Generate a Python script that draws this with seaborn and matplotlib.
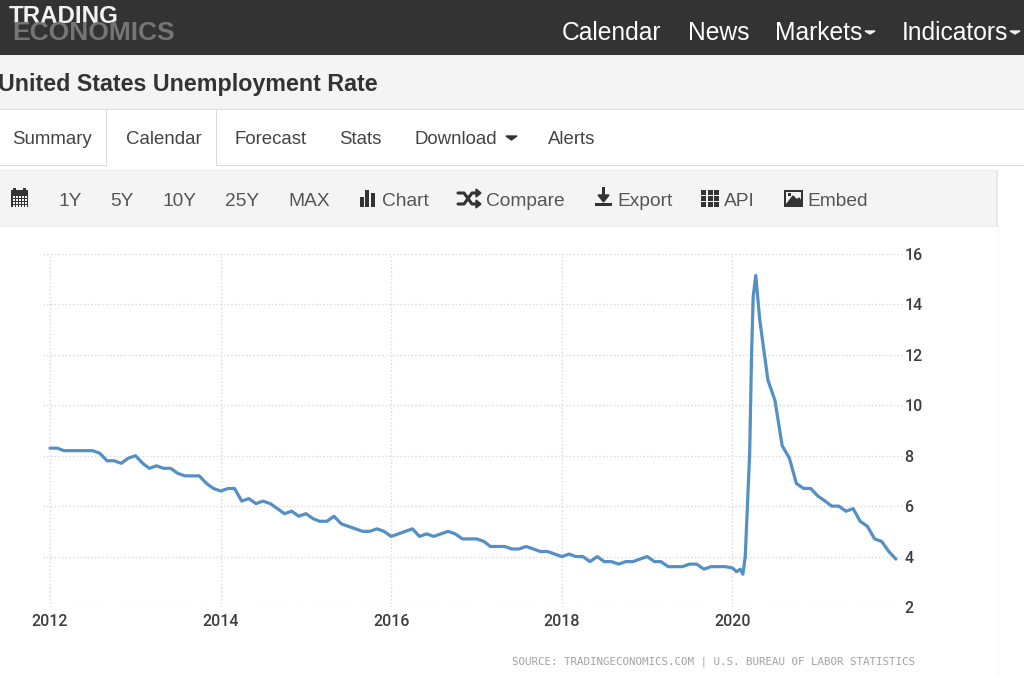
import pandas as pd
import seaborn as sns
import matplotlib.pyplot as plt
import matplotlib.dates as mdates
from matplotlib.patches import Rectangle, Polygon

# monthly values, Jan 2012 to Dec 2019
rate_2012 = [8.3, 8.3, 8.2, 8.2, 8.2, 8.2, 8.2, 8.1, 7.8, 7.8, 7.7, 7.9]
rate_2013 = [8.0, 7.7, 7.5, 7.6, 7.5, 7.5, 7.3, 7.2, 7.2, 7.2, 6.9, 6.7]
rate_2014 = [6.6, 6.7, 6.7, 6.2, 6.3, 6.1, 6.2, 6.1, 5.9, 5.7, 5.8, 5.6]
rate_2015 = [5.7, 5.5, 5.4, 5.4, 5.6, 5.3, 5.2, 5.1, 5.0, 5.0, 5.1, 5.0]
rate_2016 = [4.8, 4.9, 5.0, 5.1, 4.8, 4.9, 4.8, 4.9, 5.0, 4.9, 4.7, 4.7]
rate_2017 = [4.7, 4.6, 4.4, 4.4, 4.4, 4.3, 4.3, 4.4, 4.3, 4.2, 4.2, 4.1]
rate_2018 = [4.0, 4.1, 4.0, 4.0, 3.8, 4.0, 3.8, 3.8, 3.7, 3.8, 3.8, 3.9]
rate_2019 = [4.0, 3.8, 3.8, 3.6, 3.6, 3.6, 3.7, 3.7, 3.5, 3.6, 3.6, 3.6]

# the spike is drawn finer than monthly in the picture
spike_dates = ['2020-01-01', '2020-01-19', '2020-02-04', '2020-02-15', '2020-02-25', '2020-03-15',
               '2020-03-23', '2020-03-30', '2020-04-10', '2020-04-27', '2020-06-01', '2020-07-01',
               '2020-08-01', '2020-09-01', '2020-10-01', '2020-11-01', '2020-12-01']
spike_rate = [3.55, 3.4, 3.5, 3.3, 4.0, 8.1, 12.0, 14.3, 15.15, 13.4, 11.0, 10.2, 8.4, 7.9, 6.9, 6.7, 6.7]

dates_2021 = pd.date_range('2021-01-01', periods=12, freq='MS')
rate_2021 = [6.4, 6.2, 6.0, 6.0, 5.8, 5.9, 5.4, 5.2, 4.7, 4.6, 4.2, 3.9]

x_ticks = ['2012', '2014', '2016', '2018', '2020']
y_ticks = [2, 4, 6, 8, 10, 12, 14, 16]

nav_items = [('Calendar', 562), ('News', 688), ('Markets', 775), ('Indicators', 902)]
tab_items = [('Summary', 12), ('Calendar', 126), ('Forecast', 235), ('Stats', 339), ('Download', 415), ('Alerts', 548)]
tool_items = [('1Y', 58), ('5Y', 110), ('10Y', 163), ('25Y', 225), ('MAX', 288), ('Chart', 382),
              ('Compare', 486), ('Export', 617), ('API', 724), ('Embed', 807)]

monthly = rate_2012 + rate_2013 + rate_2014 + rate_2015 + rate_2016 + rate_2017 + rate_2018 + rate_2019
df = pd.DataFrame({
    'date': list(pd.date_range('2012-01-01', periods=len(monthly), freq='MS')) + list(pd.to_datetime(spike_dates)) + list(dates_2021),
    'rate': monthly + spike_rate + rate_2021,
})

sns.set_style('white')
plt.rcParams['font.family'] = ['Liberation Sans', 'DejaVu Sans']

W, H = 1024, 677
fig = plt.figure(figsize=(W / 100, H / 100), dpi=100)

# page chrome in pixel coordinates
page = fig.add_axes([0, 0, 1, 1])
page.set_xlim(0, W)
page.set_ylim(H, 0)
page.axis('off')


def box(x, y, w, h, color, **kw):
    page.add_patch(Rectangle((x, y), w, h, facecolor=color, edgecolor='none', **kw))


box(0, 0, W, 55, '#333333')
box(0, 55, W, 54, '#f4f4f4')
box(0, 109, W, 1, '#dddddd')
box(0, 165, W, 1, '#dddddd')
box(106, 110, 1, 56, '#dddddd')
box(216, 110, 1, 56, '#dddddd')
box(107, 165, 109, 1, 'white')
box(0, 170, 998, 57, '#e9e9e9')
box(0, 171, 996, 55, '#f4f4f4')
box(998, 227, 1, H - 227, '#f4f4f4')

page.text(9, 16.5, 'TRADING', color='#f2f2f2', fontsize=17.4, fontweight='bold', va='center')
page.text(12, 33.5, 'ECONOMICS', color='#757575', fontsize=19, fontweight='bold', va='center')
for label, x in nav_items:
    page.text(x, 33, label, color='white', fontsize=17.7, va='center')
for x in (865, 1010):
    page.add_patch(Polygon([(x, 31), (x + 10, 31), (x + 5, 34)], color='#eeeeee'))

page.text(-2, 84, 'United States Unemployment Rate', color='#333333', fontsize=16.75, fontweight='bold', va='center')
for label, x in tab_items:
    page.text(x, 140, label, color='#444444', fontsize=13.4, va='center')
page.add_patch(Polygon([(506, 136), (517, 136), (511.5, 140)], color='#333333'))
for label, x in tool_items:
    page.text(x, 201, label, color='#555555', fontsize=13.8, va='center')

# toolbar icons
box(11, 190, 17, 17, '#333333')
box(13, 188, 3, 4, '#333333')
box(23, 188, 3, 4, '#333333')
for gx in range(13, 27, 3):
    for gy in range(196, 206, 3):
        box(gx, gy, 2, 2, '#f4f4f4')
for bx, by in [(360, 197), (365, 190), (371, 193)]:
    box(bx, by, 4, 207 - by, '#333333')
page.plot([458, 464, 472, 479], [204, 204, 193, 193], color='#333333', lw=2.2)
page.plot([458, 464, 472, 479], [193, 193, 204, 204], color='#333333', lw=2.2)
page.add_patch(Polygon([(476, 189), (481, 193), (476, 197)], color='#333333'))
page.add_patch(Polygon([(476, 200), (481, 204), (476, 208)], color='#333333'))
box(602, 187, 3, 9, '#333333')
page.add_patch(Polygon([(598, 195), (609, 195), (603.5, 202)], color='#333333'))
box(595, 203, 17, 3, '#333333')
for gx in (701, 708, 714):
    for gy in (190, 196, 202):
        box(gx, gy, 5, 5, '#333333')
box(784, 190, 19, 17, '#333333')
box(786, 192, 15, 13, '#f4f4f4')
page.add_patch(Polygon([(786, 205), (793, 196), (797, 200), (799, 198), (801, 201), (801, 205)], color='#333333'))
box(788, 193, 3, 3, '#333333')

page.text(915, 662, 'SOURCE: TRADINGECONOMICS.COM | U.S. BUREAU OF LABOR STATISTICS', color='#a3a3a3',
          fontsize=7.85, family='DejaVu Sans Mono', ha='right', va='center')

# chart area, left 43 to right 903, top 254 to bottom 607
ax = fig.add_axes([43 / W, 1 - 607 / H, 860 / W, 353 / H])
ax.patch.set_alpha(0)
sns.lineplot(data=df, x='date', y='rate', color='#5490c4', linewidth=2.3, ax=ax, errorbar=None,
             estimator=None, solid_joinstyle='round', solid_capstyle='round')

start = mdates.date2num(pd.Timestamp('2012-01-01'))
px_per_day = 85.3 / 365.25
ax.set_xlim(start - 7 / px_per_day, start + 853 / px_per_day)
ax.set_ylim(2, 16)
ax.set_xticks(pd.to_datetime(x_ticks), x_ticks)
ax.set_yticks(y_ticks)
ax.yaxis.tick_right()
ax.set_xlabel('')
ax.set_ylabel('')
ax.grid(True, color='#d9d9d9', linestyle=':', linewidth=1)
ax.set_axisbelow(True)
ax.tick_params(axis='y', length=0, labelsize=11.5, labelcolor='#3d3d3d', pad=1)
ax.tick_params(axis='x', length=0, labelsize=11.5, labelcolor='#3d3d3d', pad=5)
for label in ax.get_xticklabels() + ax.get_yticklabels():
    label.set_family('Roboto')
    label.set_fontweight('medium')
sns.despine(ax=ax, left=True, right=True, top=True, bottom=True)

fig.savefig('out.png', dpi=100)
